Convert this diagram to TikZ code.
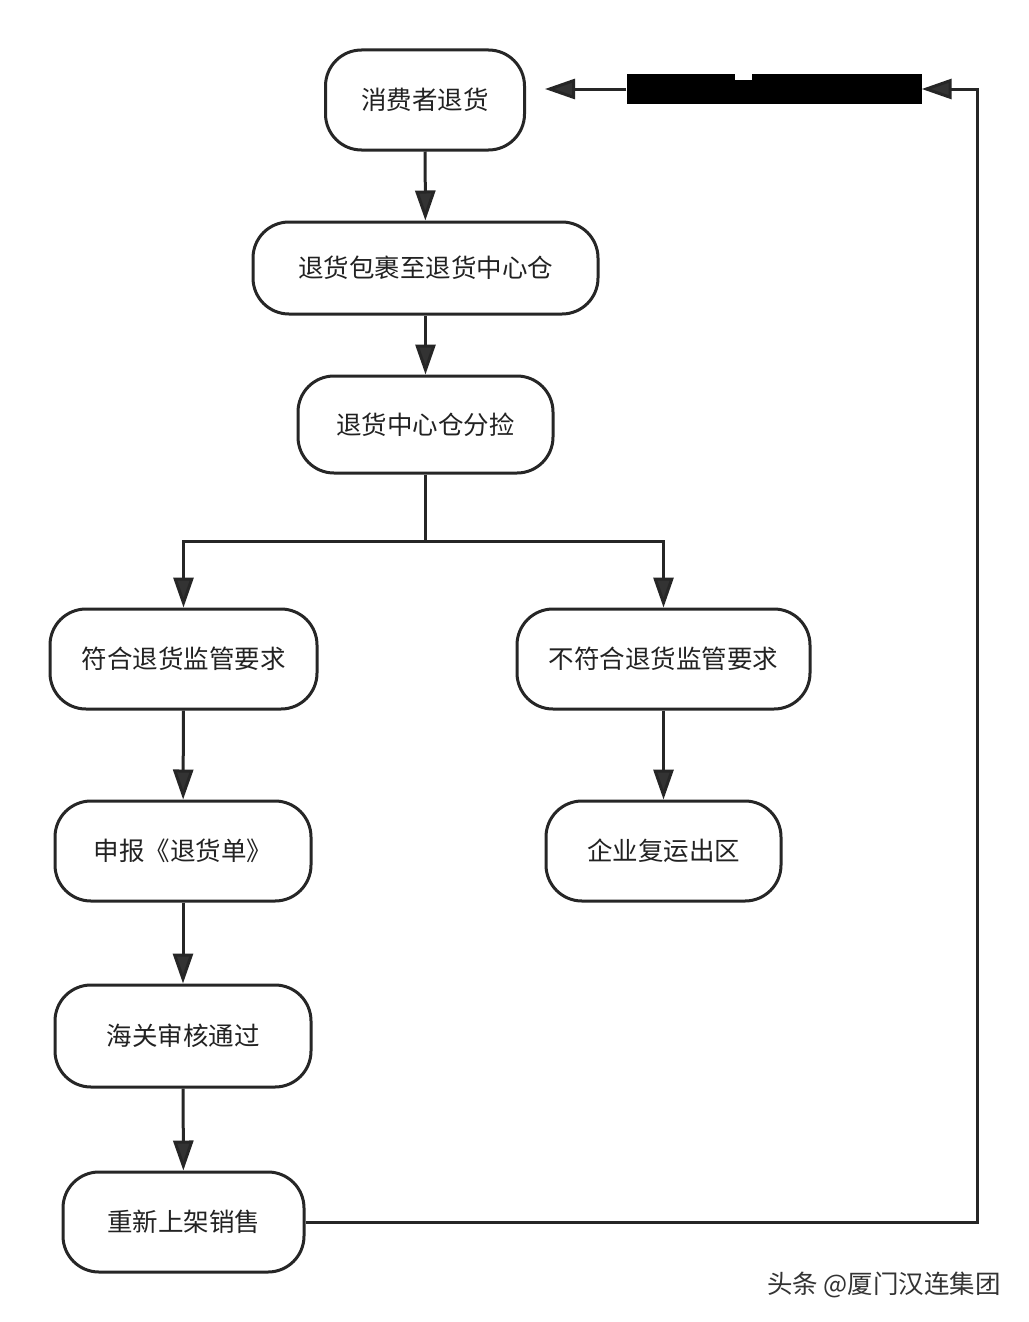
\documentclass[tikz,border=0pt]{standalone}
\usepackage{fontspec}
\setmainfont{Noto Sans CJK SC}
\usetikzlibrary{arrows.meta}
\definecolor{linec}{HTML}{262626}
\definecolor{tipc}{HTML}{333333}
\definecolor{txtc}{HTML}{222222}
\begin{document}
\begin{tikzpicture}[x=1pt,y=-1pt,
  box/.style={draw=linec, line width=3pt, rounded corners=36pt, minimum height=100pt,
    font=\fontsize{25.5}{30}\selectfont, text=txtc, inner sep=0pt},
  conn/.style={draw=linec, line width=3pt},
  arr/.style={conn, -{Triangle[length=30pt,width=20pt,fill=tipc]}},
]
\fill[white] (0,0) rectangle (1028,1322);
\useasboundingbox (0,0) rectangle (1028,1322);

\node[box, minimum width=199pt] (n1) at (425,100) {消费者退货};
\node[box, minimum width=345pt, minimum height=92pt] (n2) at (425.5,268) {退货包裹至退货中心仓};
\node[box, minimum width=255pt, minimum height=97pt] (n3) at (425.5,424.5) {退货中心仓分捡};
\node[box, minimum width=267pt] (n4) at (183.5,659) {符合退货监管要求};
\node[box, minimum width=293pt] (n5) at (663.5,659) {不符合退货监管要求};
\node[box, minimum width=256pt] (n6) at (183,851) {申报《退货单》};
\node[box, minimum width=235pt] (n7) at (663.5,851) {企业复运出区};
\node[box, minimum width=256pt, minimum height=102pt] (n8) at (183,1036) {海关审核通过};
\node[box, minimum width=241pt] (n9) at (183.5,1222) {重新上架销售};

% redacted label on the return arrow
\node[fill=black, minimum width=295pt, minimum height=30pt, inner sep=0pt] (lbl) at (774,89) {};
\fill[white] (735,74) rectangle (752,80);

\draw[arr] (n1) -- (n2);
\draw[arr] (n2) -- (n3);
\coordinate (br) at (425.5,541);
\draw[conn] (n3.south) -- (br);
\draw[arr] (br) -| (n4.north);
\draw[arr] (br) -| (n5.north);
\draw[arr] (n4) -- (n6);
\draw[arr] (n5) -- (n7);
\draw[arr] (n6) -- (n8);
\draw[arr] (n8) -- (n9);

\coordinate (rc) at (977,89);
\draw[arr] (n9.east) -| (rc) -- (lbl.east);
\coordinate (lt) at (545,89);
\draw[arr] (lbl.west) -- (lt);

\node[font=\fontsize{25.5}{30}\selectfont, text=tipc, inner sep=0pt] (wm) at (884,1285) {头条 @厦门汉连集团};
\end{tikzpicture}
\end{document}
